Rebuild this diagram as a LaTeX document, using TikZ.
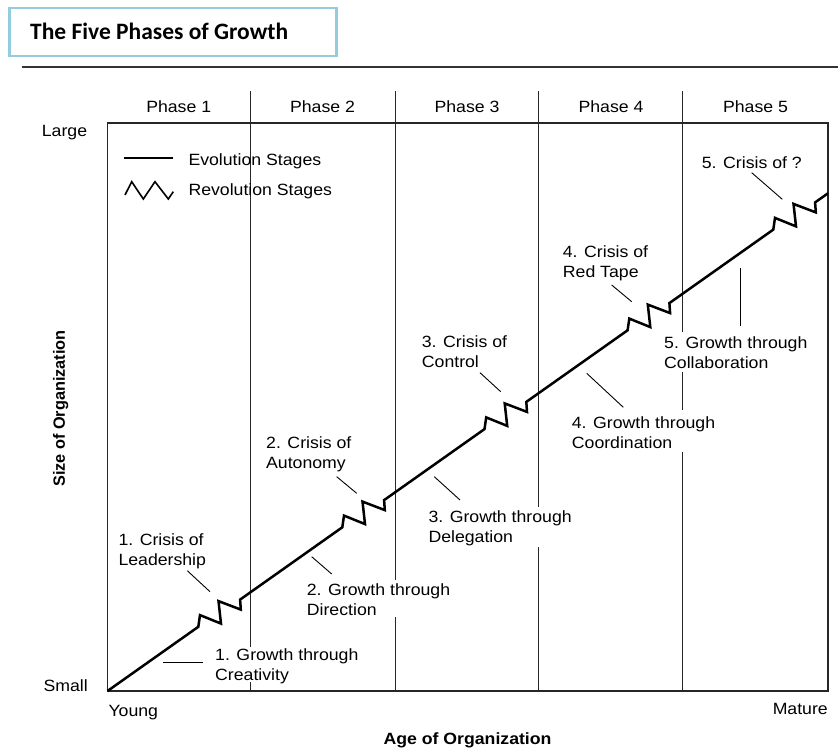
\documentclass[tikz,border=0pt]{standalone}
\usepackage{fontspec}
\setmainfont{Liberation Sans}[FakeStretch=1.085]
\newfontfamily\plainsans{Liberation Sans}
\newfontfamily\headfont{Carlito}
\definecolor{titleedge}{RGB}{146,204,221}
\begin{document}
\begin{tikzpicture}[x=1pt,y=-1pt,
  txt/.style={inner sep=0pt, font=\fontsize{16.3}{20}\selectfont, align=left},
  lbl/.style={txt, anchor=north west},
  hdr/.style={txt, anchor=north},
  axisttl/.style={inner sep=0pt, font=\fontsize{16.3}{20}\selectfont\bfseries},
  gridline/.style={line width=1.2pt, black!85},
  growth/.style={line width=2.5pt, line join=miter},
  leader/.style={line width=0.9pt},
  zigstep/.style={insert path={-- ++(1.7,-11.7) -- ++(21,8.5) -- ++(-2.5,-22.5) -- ++(22.3,8.5) -- ++(-0.7,-10)}}
]
\useasboundingbox (0,0) rectangle (838,751);

% title box and rule
\node[draw=titleedge, line width=2.2pt, fill=white, minimum width=327pt, minimum height=48pt, inner sep=0pt, anchor=north west] (titlebox) at (8.3,6.7) {};
\node[inner sep=0pt, anchor=base west, font=\headfont\fontsize{23.5}{26}\selectfont\bfseries] (title) at (30,40) {The Five Phases of Growth};
\draw[line width=1.5pt, black!80] (21.7,67) -- (838,67);

% frame
\coordinate (bl) at (107.5,691);
\coordinate (tr) at (828,123);
\draw[gridline] (bl) rectangle (tr);

% phase separators, broken where labels sit
\draw[gridline] (250.7,91) -- (250.7,647) (250.7,682) -- (250.7,691);
\draw[gridline] (395.6,91) -- (395.6,580) (395.6,617) -- (395.6,691);
\draw[gridline] (538.5,91) -- (538.5,507) (538.5,547) -- (538.5,691);
\draw[gridline] (682.7,91) -- (682.7,332) (682.7,372) -- (682.7,410) (682.7,452) -- (682.7,691);

% phase headings
\node[hdr] (ph1) at (178.7,100) {Phase 1};
\node[hdr] (ph2) at (322.5,100) {Phase 2};
\node[hdr] (ph3) at (467,100) {Phase 3};
\node[hdr] (ph4) at (611,100) {Phase 4};
\node[hdr] (ph5) at (755.5,100) {Phase 5};

% axis end labels
\node[lbl] (large) at (41.7,125) {Large};
\node[lbl] (small) at (43.3,679) {Small};
\node[lbl] (young) at (108.3,705) {Young};
\node[txt, anchor=north east] (mature) at (828,703) {Mature};

% axis titles
\node[axisttl, anchor=north west] (xtitle) at (383.3,732.5) {Age of Organization};
\node[inner sep=0pt, font=\plainsans\fontsize{16.3}{20}\selectfont\bfseries, rotate=90] (ytitle) at (60.8,408.5) {Size of Organization};

% legend
\coordinate (evoA) at (124,158.3);
\coordinate (evoB) at (173.3,158.3);
\draw[line width=1.6pt] (evoA) -- (evoB);
\node[lbl] (evo) at (188.3,153.3) {Evolution Stages};
\draw[line width=1.6pt, line join=miter] (125,195) -- (131.7,181.7) -- (143.3,199) -- (155,181.7) -- (168.3,199) -- (173.3,191.7);
\node[lbl] (rev) at (188.3,183.3) {Revolution Stages};

% growth curve: evolution segments joined by revolution zigzags
\draw[growth] (bl) -- (198.3,626.8) [zigstep]
  -- (342.3,527.3) [zigstep]
  -- (484.5,429.1) [zigstep]
  -- (627.6,330.3) [zigstep]
  -- (773.3,229.6) [zigstep]
  -- (828,193.3);

% stage labels with their leaders
\node[lbl] (c1) at (118.3,533.3) {1. Crisis of\\Leadership};
\draw[leader] (187.3,570.7) -- (210,591.7);
\node[lbl] (g1) at (215,648.3) {1. Growth through\\Creativity};
\draw[leader] (163.3,662.3) -- (203.3,662.3);

\node[lbl] (c2) at (266,436.7) {2. Crisis of\\Autonomy};
\draw[leader] (336.7,476.7) -- (356.7,493.3);
\node[lbl] (g2) at (306.7,583.3) {2. Growth through\\Direction};
\draw[leader] (311.7,556.7) -- (331.7,574);

\node[lbl] (c3) at (421.7,335) {3. Crisis of\\Control};
\draw[leader] (480,372.7) -- (500.7,391.7);
\node[lbl] (g3) at (428.3,510.7) {3. Growth through\\Delegation};
\draw[leader] (434.3,476.7) -- (460,500);

\node[lbl] (c4) at (562.7,245) {4. Crisis of\\Red Tape};
\draw[leader] (611.7,285) -- (631.7,301.7);
\node[lbl] (g4) at (571.7,416) {4. Growth through\\Coordination};
\draw[leader] (586.7,373.3) -- (623.3,407.3);

\node[lbl] (c5) at (701.7,156) {5. Crisis of ?};
\draw[leader] (751.7,172.7) -- (782.3,199.3);
\node[lbl] (g5) at (664,336) {5. Growth through\\Collaboration};
\draw[leader] (740,268.3) -- (740,326);
\end{tikzpicture}
\end{document}
